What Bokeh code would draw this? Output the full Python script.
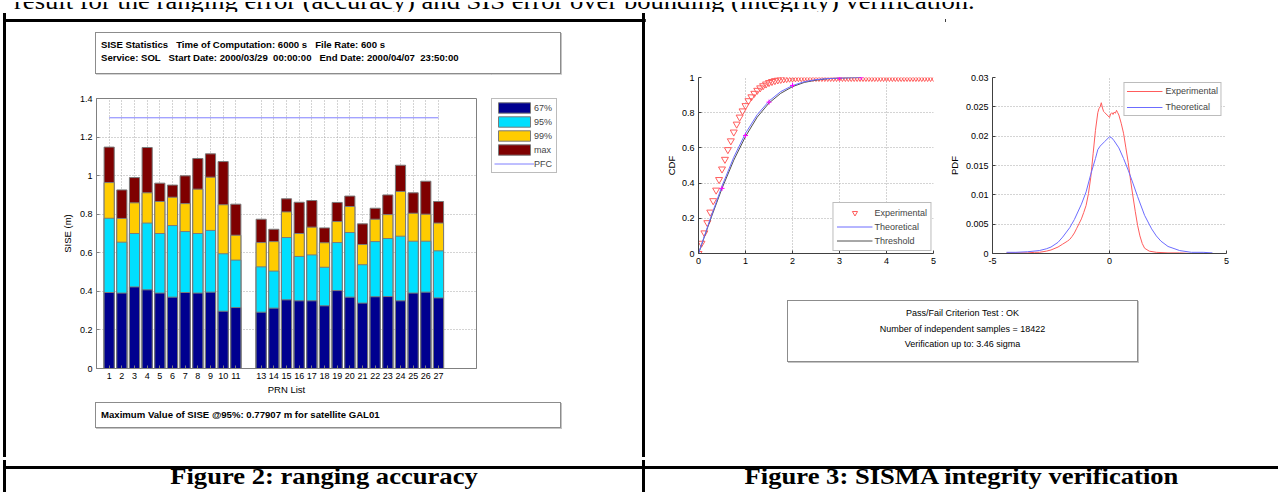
from bokeh.plotting import figure
from bokeh.models import (Range1d, FixedTicker, CustomJSTickFormatter, Legend, LegendItem,
                          Div, Spacer)
from bokeh.layouts import row, column
from bokeh.embed import file_html
from bokeh.resources import INLINE

SANS = "Liberation Sans"
SERIF = "Liberation Serif"

# ----------------------------- data -----------------------------
TOP_TEXT = "result for the ranging error (accuracy) and SIS error over bounding (integrity) verification."
CAPTION_LEFT = "Figure 2: ranging accuracy"
CAPTION_RIGHT = "Figure 3: SISMA integrity verification"

STATS_LINES = ["SISE Statistics   Time of Computation: 6000 s   File Rate: 600 s",
               "Service: SOL   Start Date: 2000/03/29  00:00:00   End Date: 2000/04/07  23:50:00"]
MAX_LINES = ["Maximum Value of SISE @95%: 0.77907 m for satellite GAL01"]
PF_LINES = ["Pass/Fail Criterion Test : OK",
            "Number of independent samples = 18422",
            "Verification up to: 3.46 sigma"]

PRN = [1, 2, 3, 4, 5, 6, 7, 8, 9, 10, 11, 13, 14, 15, 16, 17, 18, 19, 20, 21, 22, 23, 24, 25, 26, 27]
PRN_LABELS = ["1", "2", "3", "4", "5", "6", "7", "8", "9", "10", "11", "13", "14", "15", "16", "17",
              "18", "19", "20", "21", "22", "23", "24", "25", "26", "27"]
P67 = [0.394, 0.391, 0.423, 0.408, 0.391, 0.370, 0.394, 0.391, 0.396, 0.297, 0.316, 0.292, 0.313,
       0.356, 0.351, 0.351, 0.325, 0.404, 0.370, 0.339, 0.372, 0.373, 0.351, 0.391, 0.396, 0.366]
P95 = [0.779, 0.655, 0.700, 0.754, 0.700, 0.741, 0.710, 0.700, 0.716, 0.595, 0.562, 0.527, 0.505,
       0.679, 0.581, 0.589, 0.525, 0.653, 0.705, 0.538, 0.658, 0.674, 0.686, 0.660, 0.660, 0.610]
P99 = [0.964, 0.778, 0.859, 0.911, 0.866, 0.888, 0.855, 0.930, 0.992, 0.849, 0.691, 0.653, 0.658,
       0.812, 0.700, 0.733, 0.652, 0.762, 0.840, 0.643, 0.774, 0.798, 0.918, 0.805, 0.800, 0.754]
PMAX = [1.148, 0.926, 0.990, 1.146, 0.961, 0.951, 0.999, 1.089, 1.113, 1.073, 0.852, 0.774, 0.722,
        0.880, 0.862, 0.871, 0.729, 0.861, 0.894, 0.750, 0.831, 0.900, 1.054, 0.911, 0.971, 0.866]
PFC = 1.3
SISE_TICKS = [0, 0.2, 0.4, 0.6, 0.8, 1.0, 1.2, 1.4]
SISE_LABELS = ["0", "0.2", "0.4", "0.6", "0.8", "1", "1.2", "1.4"]
BAR_LEGEND = ["67%", "95%", "99%", "max", "PFC"]

CDF_X_TICKS = [0, 1, 2, 3, 4, 5]
CDF_X_LABELS = ["0", "1", "2", "3", "4", "5"]
CDF_Y_TICKS = [0, 0.2, 0.4, 0.6, 0.8, 1.0]
CDF_Y_LABELS = ["0", "0.2", "0.4", "0.6", "0.8", "1"]

CDF_EXP_X = [0.0, 0.0625, 0.125, 0.1875, 0.25, 0.3125, 0.375, 0.4375, 0.5, 0.5625, 0.625, 0.6875,
             0.75, 0.8125, 0.875, 0.9375, 1.0, 1.0625, 1.125, 1.1875, 1.25, 1.3125, 1.375, 1.4375,
             1.5, 1.5625, 1.625, 1.6875, 1.75, 1.8125, 1.875, 1.9375, 2.0, 2.0625, 2.125, 2.1875,
             2.25, 2.3125, 2.375, 2.4375, 2.5, 2.5625, 2.625, 2.6875, 2.75, 2.8125, 2.875, 2.9375,
             3.0, 3.0625, 3.125, 3.1875, 3.25, 3.3125, 3.375, 3.4375, 3.5, 3.5625, 3.625, 3.6875,
             3.75, 3.8125, 3.875, 3.9375, 4.0, 4.0625, 4.125, 4.1875, 4.25, 4.3125, 4.375, 4.4375,
             4.5, 4.5625, 4.625, 4.6875, 4.75, 4.8125, 4.875, 4.9375, 5.0]
CDF_EXP_Y = [0.000, 0.058, 0.117, 0.175, 0.235, 0.300, 0.360, 0.420, 0.480, 0.535, 0.590, 0.640,
             0.690, 0.735, 0.775, 0.810, 0.840, 0.868, 0.890, 0.910, 0.927, 0.941, 0.953, 0.963,
             0.971, 0.977, 0.982, 0.986, 0.989, 0.992, 0.994, 0.996, 0.997, 0.998, 0.999, 0.999,
             1.000, 1.000, 1.000, 1.000, 1.000, 1.000, 1.000, 1.000, 1.000, 1.000, 1.000, 1.000,
             1.000, 1.000, 1.000, 1.000, 1.000, 1.000, 1.000, 1.000, 1.000, 1.000, 1.000, 1.000,
             1.000, 1.000, 1.000, 1.000, 1.000, 1.000, 1.000, 1.000, 1.000, 1.000, 1.000, 1.000,
             1.000, 1.000, 1.000, 1.000, 1.000, 1.000, 1.000, 1.000, 1.000]
CDF_THEO_X = [0, 0.25, 0.5, 0.75, 1.0, 1.25, 1.5, 1.75, 2.0, 2.25, 2.5, 2.75, 3.0, 3.25, 3.46]
CDF_THEO_Y = [0, 0.197, 0.383, 0.547, 0.683, 0.789, 0.866, 0.920, 0.954, 0.976, 0.988, 0.994,
              0.997, 0.999, 1.0]
CDF_THR_Y = [0, 0.190, 0.370, 0.530, 0.665, 0.775, 0.855, 0.910, 0.948, 0.972, 0.985, 0.993,
             0.997, 0.999, 1.0]
CDF_PTS_X = [0, 0.5, 1.0, 1.5, 2.0, 3.0, 3.46]
CDF_PTS_Y = [0, 0.37, 0.67, 0.86, 0.955, 0.998, 1.0]

PDF_X_TICKS = [-5, 0, 5]
PDF_X_LABELS = ["-5", "0", "5"]
PDF_Y_TICKS = [0, 0.005, 0.01, 0.015, 0.02, 0.025, 0.03]
PDF_Y_LABELS = ["0", "0.005", "0.01", "0.015", "0.02", "0.025", "0.03"]

PDF_EXP_X = [-4.4, -4.0, -3.5, -3.2, -3.0, -2.7, -2.5, -2.2, -2.0, -1.8, -1.7, -1.6, -1.5, -1.4,
             -1.3, -1.2, -1.1, -1.0, -0.9, -0.8, -0.7, -0.6, -0.5, -0.45, -0.4, -0.35, -0.3, -0.25,
             -0.2, -0.1, 0.0, 0.05, 0.1, 0.15, 0.2, 0.25, 0.3, 0.35, 0.4, 0.5, 0.6, 0.7, 0.8, 0.9,
             1.0, 1.1, 1.2, 1.3, 1.4, 1.5, 1.7, 2.0, 2.5, 3.0, 3.5]
PDF_EXP_Y = [0.0001, 0.0001, 0.0001, 0.0002, 0.0002, 0.0004, 0.0006, 0.0011, 0.0016, 0.0021,
             0.0024, 0.0029, 0.0035, 0.0043, 0.0051, 0.0059, 0.0070, 0.0082, 0.0102, 0.0130,
             0.0170, 0.0210, 0.0240, 0.0247, 0.0250, 0.0257, 0.0248, 0.0242, 0.0240, 0.0236,
             0.0232, 0.0238, 0.0240, 0.0237, 0.0241, 0.0239, 0.0244, 0.0240, 0.0236, 0.0222,
             0.0205, 0.0180, 0.0155, 0.0125, 0.0098, 0.0072, 0.0048, 0.0030, 0.0017, 0.0009,
             0.0004, 0.0002, 0.0001, 0.0001, 0.0000]
PDF_THEO_X = [-4.4, -4.0, -3.5, -3.0, -2.7, -2.5, -2.2, -2.0, -1.7, -1.5, -1.2, -1.0, -0.8, -0.6,
              -0.5, -0.4, -0.2, 0.0, 0.1, 0.2, 0.4, 0.6, 0.8, 1.0, 1.2, 1.5, 1.8, 2.0, 2.2, 2.5,
              3.0, 3.5, 4.0, 4.4]
PDF_THEO_Y = [0.0002, 0.0002, 0.0003, 0.0005, 0.0008, 0.0011, 0.0019, 0.0028, 0.0044, 0.0058,
              0.0084, 0.0105, 0.0135, 0.0162, 0.0177, 0.0183, 0.0191, 0.0199, 0.0197, 0.0192,
              0.0180, 0.0162, 0.0142, 0.0120, 0.0097, 0.0065, 0.0042, 0.0030, 0.0021, 0.0012,
              0.0005, 0.0002, 0.0002, 0.0001]

# ----------------------------- colours -----------------------------
C67, C95, C99, CMAX = "#00008f", "#00dfff", "#ffcc00", "#7f0000"
C_EDGE = "#7a7a7a"
C_PFC = "#7f7fff"
C_RED = "#ff5c5c"
C_BLUE = "#6c6cff"
C_THR = "#505050"
C_GRID = "#a8a8a8"


def tick_fmt(vals, labs):
    return CustomJSTickFormatter(args=dict(vals=list(vals), labs=list(labs)),
                                 code="const i = vals.indexOf(tick); return i < 0 ? '' : labs[i];")


def style_axis(ax, ticks, labels, color, label_standoff=3):
    ax.ticker = FixedTicker(ticks=ticks)
    ax.formatter = tick_fmt(ticks, labels)
    ax.major_label_text_font = SANS
    ax.major_label_text_font_size = "9px"
    ax.major_label_text_color = "black"
    ax.axis_line_color = color
    ax.major_tick_line_color = color
    ax.major_tick_in = 3
    ax.major_tick_out = 0
    ax.minor_tick_line_color = None
    ax.major_label_standoff = 4
    ax.axis_label_text_font = SANS
    ax.axis_label_text_font_size = "9.5px"
    ax.axis_label_text_font_style = "normal"
    ax.axis_label_text_color = "black"
    ax.axis_label_standoff = label_standoff


def style_grid(p, xt, yt):
    for g, t in ((p.xgrid[0], xt), (p.ygrid[0], yt)):
        g.ticker = FixedTicker(ticks=t)
        g.grid_line_color = C_GRID
        g.grid_line_dash = "1 2"
        g.grid_line_width = 1


def legend(items, **kw):
    return Legend(items=items, label_text_font=SANS, label_text_font_size="9px",
                  border_line_color="#7a7a7a", border_line_width=1,
                  background_fill_color="white", background_fill_alpha=1.0, **kw)


def bar_series(p):
    """Draw the four overlapping SISE bar series and the PFC level onto p."""
    style = dict(width=0.8, line_color=C_EDGE, line_width=1, bottom=0)
    r_max = p.vbar(x=PRN, top=PMAX, fill_color=CMAX, **style)
    r_99 = p.vbar(x=PRN, top=P99, fill_color=C99, **style)
    r_95 = p.vbar(x=PRN, top=P95, fill_color=C95, **style)
    r_67 = p.vbar(x=PRN, top=P67, fill_color=C67, **style)
    r_pfc = p.line(x=[PRN[0], PRN[-1]], y=[PFC, PFC], line_color=C_PFC, line_width=1)
    return [r_67, r_95, r_99, r_max, r_pfc]


# ----------------------------- bar chart -----------------------------
bar = figure(width=485, height=326, x_range=Range1d(0, 30), y_range=Range1d(0, 1.4),
             output_backend="svg", toolbar_location=None, title=None,
             min_border_left=90, min_border_right=15, min_border_top=24, min_border_bottom=32)
bar.outline_line_color = "#808080"
style_axis(bar.xaxis[0], PRN, PRN_LABELS, "#808080", 2)
style_axis(bar.yaxis[0], SISE_TICKS, SISE_LABELS, "#808080", 4)
bar.xaxis.axis_label = "PRN List"
bar.yaxis.axis_label = "SISE (m)"
style_grid(bar, PRN, SISE_TICKS)
bar_series(bar)

# The chart's legend sits outside its axes box, so a bare companion canvas carries it.
# Its view range lies away from the data, so only the legend shows there.
lf = figure(width=151, height=326, x_range=Range1d(-3, -2), y_range=Range1d(0, 1.4),
            output_backend="svg", toolbar_location=None, title=None,
            x_axis_location=None, y_axis_location=None,
            min_border_left=0, min_border_right=0, min_border_top=23, min_border_bottom=0)
lf.outline_line_color = None
lf.grid.visible = False
lf_renderers = bar_series(lf)
lf.add_layout(legend([LegendItem(label=lab, renderers=[r])
                      for lab, r in zip(BAR_LEGEND, lf_renderers)],
                     location="top_left", margin=0, padding=2, spacing=1,
                     glyph_width=40, glyph_height=13, label_height=13, label_standoff=0))

# ----------------------------- CDF -----------------------------
cdf = figure(width=300, height=262, x_range=Range1d(0, 5), y_range=Range1d(0, 1),
             output_backend="svg", toolbar_location=None, title=None,
             min_border_left=53, min_border_right=12, min_border_top=64, min_border_bottom=22)
cdf.outline_line_color = None
style_axis(cdf.xaxis[0], CDF_X_TICKS, CDF_X_LABELS, "#404040")
style_axis(cdf.yaxis[0], CDF_Y_TICKS, CDF_Y_LABELS, "#404040", 2)
cdf.yaxis.axis_label = "CDF"
style_grid(cdf, CDF_X_TICKS, CDF_Y_TICKS)
r_cexp = cdf.scatter(CDF_EXP_X, CDF_EXP_Y, marker="inverted_triangle", size=7,
                     line_color=C_RED, fill_color=None, line_width=1)
r_cthr = cdf.line(CDF_THEO_X, CDF_THR_Y, line_color=C_THR, line_width=1)
r_ctheo = cdf.line(CDF_THEO_X, CDF_THEO_Y, line_color=C_BLUE, line_width=1)
cdf.scatter(CDF_PTS_X, CDF_PTS_Y, marker="cross", size=5, line_color="#ff00ff", line_width=1)
cdf.add_layout(legend([LegendItem(label="Experimental", renderers=[r_cexp]),
                       LegendItem(label="Theoretical", renderers=[r_ctheo]),
                       LegendItem(label="Threshold", renderers=[r_cthr])],
                      location="bottom_right", margin=2, padding=3, spacing=1,
                      glyph_width=36, glyph_height=13, label_height=13, label_standoff=2))

# ----------------------------- PDF -----------------------------
pdf = figure(width=333, height=262, x_range=Range1d(-5, 5), y_range=Range1d(0, 0.03),
             output_backend="svg", toolbar_location=None, title=None,
             min_border_left=47, min_border_right=52, min_border_top=64, min_border_bottom=22)
pdf.outline_line_color = None
style_axis(pdf.xaxis[0], PDF_X_TICKS, PDF_X_LABELS, "#404040")
style_axis(pdf.yaxis[0], PDF_Y_TICKS, PDF_Y_LABELS, "#404040", 3)
pdf.yaxis.axis_label = "PDF"
style_grid(pdf, PDF_X_TICKS, PDF_Y_TICKS)
r_pexp = pdf.line(PDF_EXP_X, PDF_EXP_Y, line_color=C_RED, line_width=1)
r_ptheo = pdf.line(PDF_THEO_X, PDF_THEO_Y, line_color=C_BLUE, line_width=1)
pdf.add_layout(legend([LegendItem(label="Experimental", renderers=[r_pexp]),
                       LegendItem(label="Theoretical", renderers=[r_ptheo])],
                      location="top_right", margin=5, padding=2, spacing=4,
                      glyph_width=36, glyph_height=12, label_height=12, label_standoff=3))


# ----------------------------- page pieces -----------------------------
def black(w, h):
    return Div(text=f'<div style="width:{w}px;height:{h}px;background:#000"></div>',
               width=w, height=h, margin=0)


def sp(w, h):
    return Spacer(width=w, height=h, margin=0)


def textbox(lines, w, h, size, bold, align, pad_top, pad_left, line_h):
    html = "<br>".join(lines)
    weight = "bold" if bold else "normal"
    return Div(text=(f'<div style="box-sizing:border-box;width:{w}px;height:{h}px;'
                     f'border:1px solid #8c8c8c;box-shadow:1px 1px 0 #c4c4c4;'
                     f'padding:{pad_top}px 0 0 {pad_left}px;font-family:\'{SANS}\';'
                     f'font-size:{size}px;line-height:{line_h}px;font-weight:{weight};'
                     f'text-align:{align};white-space:pre;color:#000">{html}</div>'),
               width=w, height=h, margin=0)


def caption(text, w):
    return Div(text=(f'<div style="position:relative;width:{w}px;height:32px;overflow:hidden">'
                     f'<div style="position:absolute;left:0;top:5px;width:{w}px;text-align:center;'
                     f'font-family:\'{SERIF}\';font-weight:bold;font-size:26.6px;line-height:26.6px;'
                     f'white-space:nowrap;color:#000;transform:scaleY(0.86);transform-origin:0 0">'
                     f'{text}</div></div>'),
               width=w, height=32, margin=0)


top_div = Div(text=('<div style="position:relative;width:1278px;height:10px;overflow:hidden">'
                    '<div style="position:absolute;left:14px;top:-12px;white-space:nowrap;'
                    f'font-family:\'{SERIF}\';font-size:26.6px;line-height:26.6px;color:#000;'
                    f'transform:scaleY(0.86);transform-origin:0 0">{TOP_TEXT}</div></div>'),
              width=1278, height=10, margin=0)

left_col = column(
    sp(636, 19),
    row(sp(89, 42), textbox(STATS_LINES, 466, 42, 9.6, True, "left", 5, 5, 13)),
    row(bar, lf),
    sp(636, 2),
    row(sp(89, 26), textbox(MAX_LINES, 466, 26, 9.6, True, "left", 0, 5, 24)),
    sp(636, 29),
)

right_col = column(
    row(cdf, pdf),
    sp(633, 25),
    row(sp(142, 62), textbox(PF_LINES, 351, 62, 9, False, "center", 5, 0, 15.5)),
    sp(633, 95),
)

root = column(
    top_div,
    row(sp(3, 3), black(1275, 3)),
    row(sp(3, 444), black(3, 444), left_col, black(3, 444), right_col),
    row(sp(3, 3), black(1275, 3)),
    row(sp(3, 32), black(3, 32), caption(CAPTION_LEFT, 636), black(3, 32),
        caption(CAPTION_RIGHT, 633)),
)

open("out.html", "w").write(file_html(root, INLINE))
